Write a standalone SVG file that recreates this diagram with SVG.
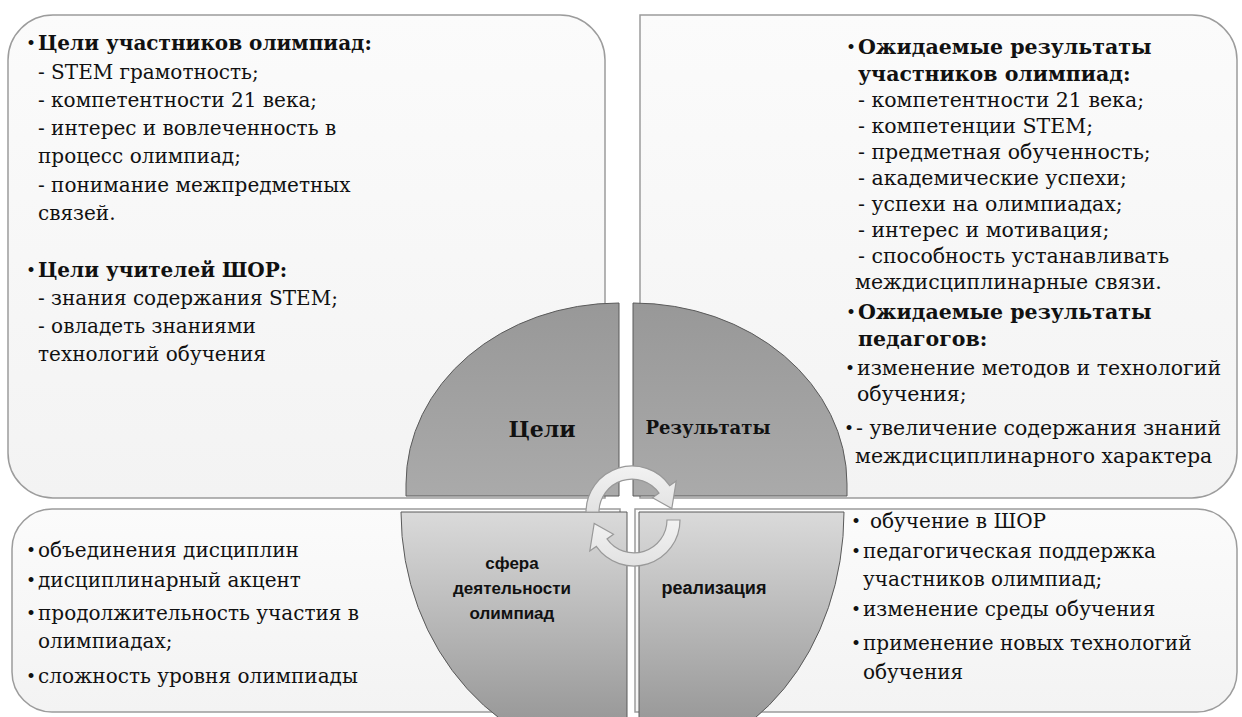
<svg xmlns="http://www.w3.org/2000/svg" width="1242" height="717" viewBox="0 0 1242 717">
<defs>
<linearGradient id="gBox" x1="0" y1="0" x2="0" y2="1">
<stop offset="0" stop-color="#fbfbfb"/><stop offset="1" stop-color="#f3f3f3"/>
</linearGradient>
<linearGradient id="gUp" x1="0" y1="0" x2="0" y2="1">
<stop offset="0" stop-color="#989898"/><stop offset="1" stop-color="#aaaaaa"/>
</linearGradient>
<linearGradient id="gLo" x1="0" y1="0" x2="0" y2="1">
<stop offset="0" stop-color="#dadada"/><stop offset="1" stop-color="#8c8c8c"/>
</linearGradient>
<linearGradient id="gArr" x1="0" y1="0" x2="0" y2="1">
<stop offset="0" stop-color="#f2f2f2"/><stop offset="1" stop-color="#e2e2e2"/>
</linearGradient>
<style>
.box{fill:url(#gBox);stroke:#9c9c9c;stroke-width:1.5}
.qu{fill:url(#gUp);stroke:#5a5a5a;stroke-width:1}
.ql{fill:url(#gLo);stroke:#5a5a5a;stroke-width:1}
.arr{fill:url(#gArr);stroke:#999999;stroke-width:1.2}
.s{font-family:"DejaVu Serif",serif;fill:#111}
.t{font-size:20px}
.tr{font-size:20.5px}
.tb{font-size:20px}
.bl{font-size:17px}
.b{font-weight:bold}
.lbl{font-family:"DejaVu Serif",serif;font-weight:bold;fill:#111;text-anchor:middle}
.lbs{font-family:"Liberation Sans",Arial,sans-serif;font-weight:bold;fill:#111;text-anchor:middle}
</style>
</defs>
<rect width="1242" height="717" fill="#ffffff"/>

<g id="box-goals">
<path class="box" d="M53,15 H560 A45,45 0 0 1 605,60 V498 H53 A45,45 0 0 1 8,453 V60 A45,45 0 0 1 53,15 Z"/>
</g>
<g id="box-results">
<path class="box" d="M640,15 H1192 A45,45 0 0 1 1237,60 V453 A45,45 0 0 1 1192,498 H640 Z"/>
</g>
<g id="box-sphere">
<path class="box" d="M52,509 H620 V712 H52 A40,40 0 0 1 12,672 V549 A40,40 0 0 1 52,509 Z"/>
</g>
<g id="box-realization">
<path class="box" d="M635,509 H1197 A40,40 0 0 1 1237,549 V672 A40,40 0 0 1 1197,712 H635 Z"/>
</g>

<g id="quad-goals">
<path class="qu" d="M619,496 H406 V484 A213,181 0 0 1 619,303 Z"/>
<text class="lbl" x="542" y="437" font-size="22">Цели</text>
</g>
<g id="quad-results">
<path class="qu" d="M633,496 V303 A214,181 0 0 1 847,484 V496 Z"/>
<text class="lbl" x="708" y="434" font-size="18">Результаты</text>
</g>
<g id="quad-sphere">
<path class="ql" d="M627,512 H401 A226,250 0 0 0 627,762 Z"/>
<text class="lbs" x="512" y="569" font-size="17">сфера</text>
<text class="lbs" x="512" y="594" font-size="17">деятельности</text>
<text class="lbs" x="512" y="619" font-size="17">олимпиад</text>
</g>
<g id="quad-realization">
<path class="ql" d="M639,512 H844 A205,250 0 0 1 639,762 Z"/>
<text class="lbs" x="714" y="594" font-size="18">реализация</text>
</g>

<g id="connectors">
<path class="arr" d="M586,512 A46,46 0 0 1 669.7,485.6 L676.2,481 L671.8,508.6 L652.5,497.7 L659,493.1 A33,33 0 0 0 599,512 Z"/>
<path class="arr" d="M680,520 A46,46 0 0 1 596.3,546.4 L589.8,551 L594.2,523.4 L613.5,534.3 L607,538.9 A33,33 0 0 0 667,520 Z"/>
</g>

<g id="text-goals" class="s">
<text class="bl" x="26" y="49">•</text>
<text class="t b" x="38" y="50">Цели участников олимпиад:</text>
<text class="t" x="38" y="79">- STEM грамотность;</text>
<text class="t" x="38" y="107">- компетентности 21 века;</text>
<text class="t" x="38" y="135">- интерес и вовлеченность в</text>
<text class="t" x="38" y="163">процесс олимпиад;</text>
<text class="t" x="38" y="192">- понимание межпредметных</text>
<text class="t" x="38" y="220">связей.</text>
<text class="bl" x="26" y="276">•</text>
<text class="t b" x="38" y="277">Цели учителей ШОР:</text>
<text class="t" x="38" y="305">- знания содержания STEM;</text>
<text class="t" x="38" y="333">- овладеть знаниями</text>
<text class="t" x="38" y="361">технологий обучения</text>
</g>

<g id="text-results" class="s">
<text class="bl" x="846" y="53">•</text>
<text class="tr b" x="858" y="54">Ожидаемые результаты</text>
<text class="tr b" x="858" y="81">участников олимпиад:</text>
<text class="tr" x="858" y="107">- компетентности 21 века;</text>
<text class="tr" x="858" y="133">- компетенции STEM;</text>
<text class="tr" x="858" y="159">- предметная обученность;</text>
<text class="tr" x="858" y="185">- академические успехи;</text>
<text class="tr" x="858" y="211">- успехи на олимпиадах;</text>
<text class="tr" x="858" y="237">- интерес и мотивация;</text>
<text class="tr" x="858" y="263">- способность устанавливать</text>
<text class="tr" x="855" y="289">междисциплинарные связи.</text>
<text class="bl" x="846" y="318">•</text>
<text class="tr b" x="858" y="319">Ожидаемые результаты</text>
<text class="tr b" x="858" y="346">педагогов:</text>
<text class="bl" x="845" y="374">•</text>
<text class="tr" x="857" y="375">изменение методов и технологий</text>
<text class="tr" x="857" y="401">обучения;</text>
<text class="bl" x="844" y="434">•</text>
<text class="tr" x="856" y="435">- увеличение содержания знаний</text>
<text class="tr" x="855" y="463">междисциплинарного характера</text>
</g>

<g id="text-sphere" class="s">
<text class="bl" x="26" y="556">•</text>
<text class="tb" x="38" y="557">объединения дисциплин</text>
<text class="bl" x="26" y="586">•</text>
<text class="tb" x="38" y="587">дисциплинарный акцент</text>
<text class="bl" x="26" y="619">•</text>
<text class="tb" x="38" y="620">продолжительность участия в</text>
<text class="tb" x="38" y="648">олимпиадах;</text>
<text class="bl" x="26" y="682">•</text>
<text class="tb" x="38" y="683">сложность уровня олимпиады</text>
</g>

<g id="text-realization" class="s">
<text class="bl" x="851" y="527">•</text>
<text class="tb" x="870" y="528">обучение в ШОР</text>
<text class="bl" x="851" y="557">•</text>
<text class="tb" x="863" y="558">педагогическая поддержка</text>
<text class="tb" x="863" y="586">участников олимпиад;</text>
<text class="bl" x="851" y="615">•</text>
<text class="tb" x="863" y="616">изменение среды обучения</text>
<text class="bl" x="851" y="649">•</text>
<text class="tb" x="863" y="650">применение новых технологий</text>
<text class="tb" x="863" y="679">обучения</text>
</g>
</svg>
